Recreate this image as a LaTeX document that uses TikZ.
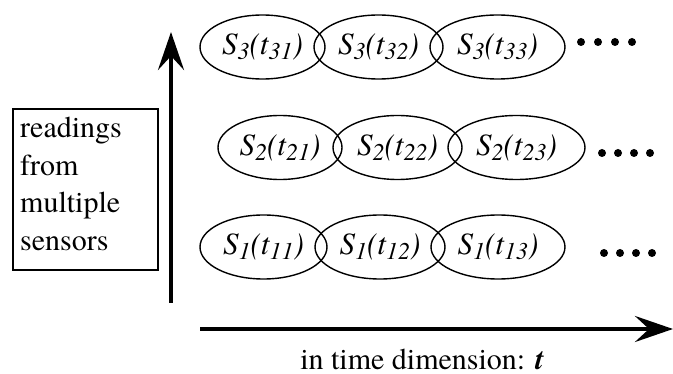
\documentclass[tikz,border=0pt]{standalone}
\usepackage{fontspec}
\setmainfont{TeX Gyre Termes}
\usetikzlibrary{arrows.meta,shapes.geometric}
\newcommand{\lowsub}[1]{\raisebox{-5pt}{\fontsize{24}{24}\selectfont #1}}
\newcommand{\sreading}[2]{\itshape S\lowsub{#1}(t\lowsub{#2})}
\begin{document}
\begin{tikzpicture}[x=1pt,y=-1pt,
  reading/.style={draw, ellipse, line width=1.4pt, minimum height=64pt, inner sep=0pt,
    font=\fontsize{31}{31}\selectfont},
  axis/.style={line width=4pt, -{Stealth[length=38pt,width=26pt,inset=14pt]}},
  moredot/.style={circle, fill, inner sep=0pt, minimum size=8pt},
  labeltext/.style={font=\fontsize{30}{37.5}\selectfont}]
\useasboundingbox (0,0) rectangle (673,374);
% row 3
\node[reading, minimum width=125pt] (a1) at (262.5,47) {\sreading{3}{31}};
\node[reading, minimum width=129pt] (a2) at (378.5,47) {\sreading{3}{32}};
\node[reading, minimum width=135pt] (a3) at (497.5,47) {\sreading{3}{33}};
% row 2
\node[reading, minimum width=124pt] (b1) at (280,147.5) {\sreading{2}{21}};
\node[reading, minimum width=129pt] (b2) at (397.5,147.5) {\sreading{2}{22}};
\node[reading, minimum width=137pt] (b3) at (516.5,147.5) {\sreading{2}{23}};
% row 1
\node[reading, minimum width=127pt] (c1) at (263.5,247) {\sreading{1}{11}};
\node[reading, minimum width=130pt] (c2) at (380,247) {\sreading{1}{12}};
\node[reading, minimum width=134pt] (c3) at (498,247) {\sreading{1}{13}};
% dots
\foreach \i/\x in {1/581,2/598,3/615,4/632} \node[moredot] (ad\i) at (\x,42) {};
\foreach \i/\x in {1/602,2/618,3/634,4/650} \node[moredot] (bd\i) at (\x,153) {};
\foreach \i/\x in {1/604,2/620,3/636,4/652} \node[moredot] (cd\i) at (\x,253) {};
% box
\node[draw, line width=1.3pt, minimum width=145pt, minimum height=161pt, inner sep=0pt] (box) at (85.5,189.5) {};
\node[labeltext, align=left, anchor=north west, inner sep=0pt] (boxtext) at (20,117)
  {readings\\from\\multiple\\sensors};
% axes
\coordinate (vstart) at (171,303);
\coordinate (vend) at (171,32);
\draw[axis] (vstart) -- (vend);
\coordinate (hstart) at (200,329);
\coordinate (hend) at (673,329);
\draw[axis] (hstart) -- (hend);
\node[labeltext, anchor=base, inner sep=0pt] (tlabel) at (422,369.5) {in time dimension: \textbf{\textit{t}}};
\end{tikzpicture}
\end{document}
